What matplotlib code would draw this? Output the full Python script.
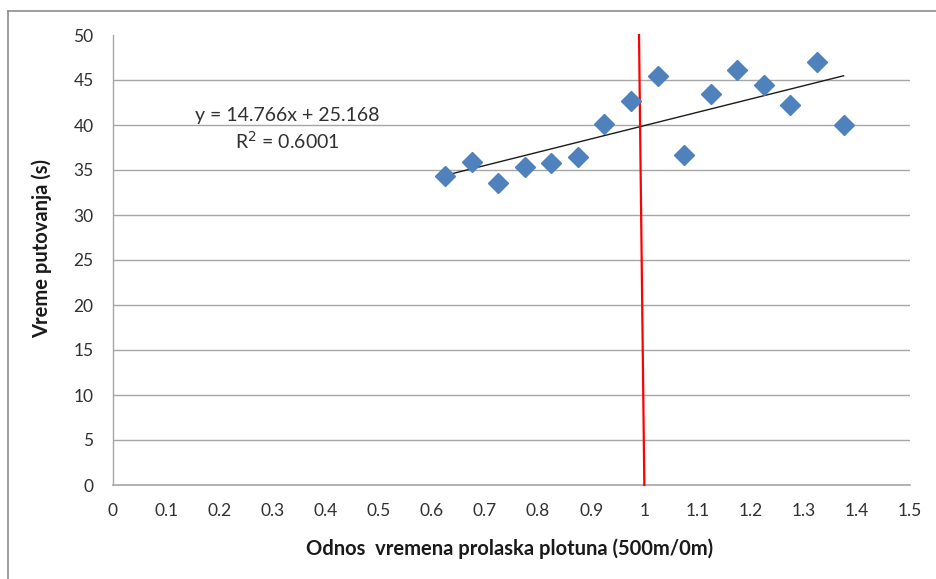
import matplotlib
matplotlib.use("Agg")
import matplotlib.pyplot as plt
from matplotlib.lines import Line2D

# Measured ratios (500m / 0m) and travel times
ratio = [0.625, 0.675, 0.725, 0.775, 0.825, 0.875, 0.925, 0.975,
         1.025, 1.075, 1.125, 1.175, 1.225, 1.275, 1.325, 1.375]
travel_time = [34.3, 35.9, 33.6, 35.3, 35.8, 36.4, 40.1, 42.7,
               45.4, 36.7, 43.4, 46.1, 44.4, 42.2, 47.0, 40.0]

# Linear trend reported on the chart
slope = 14.766
intercept = 25.168
r_squared = 0.6001

x_ticks = [0, 0.1, 0.2, 0.3, 0.4, 0.5, 0.6, 0.7, 0.8, 0.9, 1.0,
           1.1, 1.2, 1.3, 1.4, 1.5]
x_tick_labels = ["0", "0.1", "0.2", "0.3", "0.4", "0.5", "0.6", "0.7",
                 "0.8", "0.9", "1", "1.1", "1.2", "1.3", "1.4", "1.5"]
y_ticks = [0, 5, 10, 15, 20, 25, 30, 35, 40, 45, 50]

plt.rcParams["font.family"] = ["Lato", "DejaVu Sans"]
text_color = "#303030"
grid_color = "#a6a6a6"

fig = plt.figure(figsize=(9.37, 5.79), dpi=100)
ax = fig.add_axes([113 / 937, 1 - 485 / 579, 797 / 937, 450 / 579])

ax.set_xlim(0, 1.5)
ax.set_ylim(0, 50)

# horizontal gridlines (none at the top value)
for yv in y_ticks[1:-1]:
    ax.axhline(yv, color=grid_color, lw=1.0, zorder=1)

for side in ["top", "right"]:
    ax.spines[side].set_visible(False)
ax.spines["left"].set_color(grid_color)
ax.spines["bottom"].set_color(grid_color)
ax.spines["left"].set_linewidth(1.0)
ax.spines["bottom"].set_linewidth(1.2)

ax.set_xticks(x_ticks)
ax.set_xticklabels(x_tick_labels)
ax.set_yticks(y_ticks)
ax.tick_params(axis="both", length=0, labelsize=12.5, colors=text_color)
ax.tick_params(axis="y", pad=14)
ax.tick_params(axis="x", pad=13)

# trend line
x0, x1 = ratio[0], ratio[-1]
ax.plot([x0, x1], [slope * x0 + intercept, slope * x1 + intercept],
        color="#1a1a1a", lw=1.0, zorder=3)

# reference line at ratio 1
ax.plot([0.99, 1.0], [50, 0], color="#ff0000", lw=1.6, zorder=4,
        clip_on=False)

# data points
ax.plot(ratio, travel_time, linestyle="none", marker="D", markersize=10,
        color="#4f81bd", markeredgecolor="#4f81bd", zorder=5)

ax.text(0.328, 41.1, f"y = {slope}x + {intercept}", ha="center", va="center",
        fontsize=14, color=text_color)
ax.text(0.328, 38.2, f"R$^2$ = {r_squared}", ha="center", va="center",
        fontsize=14, color=text_color)

fig.text(510 / 937, 1 - 549 / 579, "Odnos  vremena prolaska plotuna (500m/0m)",
         ha="center", va="center", fontsize=14.5, fontweight="bold",
         color="#1a1a1a")
fig.text(42 / 937, 1 - 249 / 579, "Vreme putovanja (s)", ha="center",
         va="center", rotation=90, fontsize=14.5, fontweight="bold",
         color="#1a1a1a")

# outer chart frame
fig.add_artist(Line2D([8 / 937, 8 / 937], [0, 1 - 11 / 579],
                      transform=fig.transFigure, color="#8c8c8c", lw=1.2))
fig.add_artist(Line2D([8 / 937, 1], [1 - 11 / 579, 1 - 11 / 579],
                      transform=fig.transFigure, color="#8c8c8c", lw=1.2))

fig.savefig("out.png", dpi=100)
